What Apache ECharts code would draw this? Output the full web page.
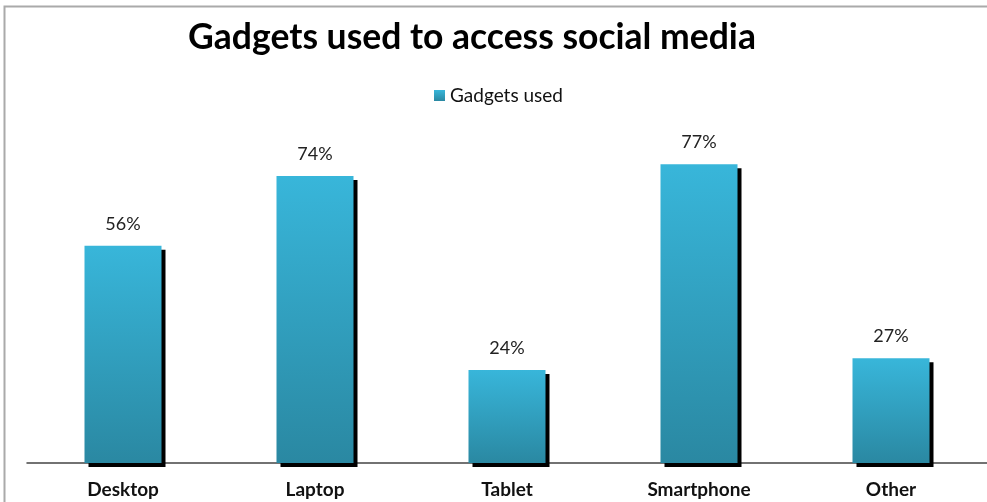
<!DOCTYPE html>
<html>
<head>
<meta charset="utf-8">
<script src="https://cdn.jsdelivr.net/npm/echarts@6/dist/echarts.min.js"></script>
<style>
  html, body { margin: 0; padding: 0; background: #fff; }
  #chart { width: 987px; height: 502px; }
</style>
</head>
<body>
<div id="chart"></div>
<script>
// Share of respondents using each kind of device for social media
const categories = ['Desktop', 'Laptop', 'Tablet', 'Smartphone', 'Other'];
const gadgetsUsed = [56, 74, 24, 77, 27];
const seriesName = 'Gadgets used';
const titleText = 'Gadgets used to access social media';

const font = 'Lato, "Open Sans", sans-serif';
const chart = echarts.init(document.getElementById('chart'));

chart.setOption({
  backgroundColor: '#fff',
  animation: false,
  graphic: [{
    type: 'rect',
    shape: { x: 4.5, y: 6.5, width: 1100, height: 600 },
    style: { fill: 'none', stroke: '#aaaaaa', lineWidth: 2 },
    silent: true,
    z: -1
  }],
  title: {
    text: titleText,
    left: 467,
    top: 15,
    textAlign: 'center',
    textStyle: { fontFamily: font, fontWeight: 'bold', fontSize: 35.5, color: '#000' }
  },
  legend: {
    data: [seriesName],
    left: 429,
    top: 81,
    icon: 'rect',
    itemWidth: 11,
    itemHeight: 11,
    itemGap: 6,
    textStyle: { fontFamily: font, fontSize: 19, color: '#111' }
  },
  grid: { left: 27, width: 965, top: 113.8, bottom: 39 },
  xAxis: {
    type: 'category',
    data: categories,
    axisLine: { lineStyle: { color: '#444', width: 1.5 } },
    axisTick: { show: false },
    axisLabel: { fontFamily: font, fontWeight: 'bold', fontSize: 19, color: '#111', margin: 17 }
  },
  yAxis: {
    type: 'value',
    min: 0,
    max: 90,
    show: false,
    splitLine: { show: false }
  },
  series: [{
    name: seriesName,
    type: 'bar',
    data: gadgetsUsed,
    barWidth: 77,
    itemStyle: {
      color: new echarts.graphic.LinearGradient(0, 0, 0, 1, [
        { offset: 0, color: '#38b6da' },
        { offset: 1, color: '#2a88a2' }
      ]),
      shadowColor: '#000',
      shadowBlur: 0,
      shadowOffsetX: 4,
      shadowOffsetY: 4
    },
    label: {
      show: true,
      position: 'top',
      distance: 13,
      formatter: '{c}%',
      fontFamily: font,
      fontSize: 18,
      color: '#222'
    }
  }]
});
</script>
</body>
</html>
